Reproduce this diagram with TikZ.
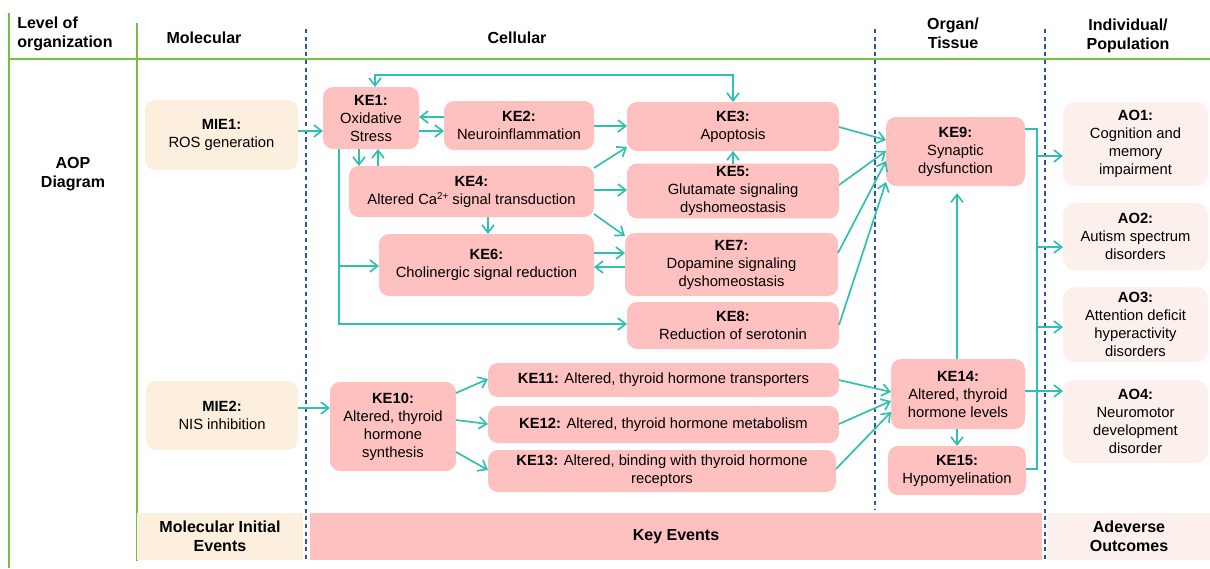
\documentclass[tikz,border=0pt]{standalone}
\usepackage{fontspec}
\setmainfont{Liberation Sans}
\usetikzlibrary{arrows.meta}

\definecolor{kePink}{RGB}{255,192,192}
\definecolor{miePeach}{RGB}{253,239,221}
\definecolor{aoCream}{RGB}{252,240,236}
\definecolor{arrowTeal}{RGB}{47,192,176}
\definecolor{gridGreen}{RGB}{118,192,64}
\definecolor{dashBlue}{RGB}{47,84,160}

\begin{document}
\begin{tikzpicture}
[x=0.025cm, y=-0.025cm,
  >={Straight Barb[length=5.5pt,width=8.5pt]},
  boxDecorate/.style={shape=rectangle,rounded corners=0.25cm,align=center,
    inner sep=2pt,outer sep=0pt,font=\fontsize{10.5}{12.8}\selectfont},
  keDecorate/.style={boxDecorate,fill=kePink},
  mieDecorate/.style={boxDecorate,fill=miePeach},
  aoDecorate/.style={boxDecorate,fill=aoCream,rounded corners=0.3cm},
  bandDecorate/.style={shape=rectangle,align=center,outer sep=0pt,
    font=\fontsize{11.4}{13.5}\selectfont\bfseries},
  headDecorate/.style={align=center,inner sep=0pt,
    font=\fontsize{11.4}{13.5}\selectfont\bfseries},
  gridDecorate/.style={gridGreen,line width=1.2pt},
  levelDecorate/.style={dashBlue,line width=1pt,dash pattern=on 3pt off 2.5pt},
  arrowDecorate/.style={->,arrowTeal,line width=1.2pt},
  busDecorate/.style={arrowTeal,line width=2pt}]
\useasboundingbox (0,0) rectangle (1210,568);
%% table lines
\draw[gridDecorate] (9,13) -- (9,568);
\draw[gridDecorate] (137,23) -- (137,561);
\draw[gridDecorate] (9,59) -- (1210,59);
\foreach \x/\ybot in {306/561, 875/509, 1045/561}
{
  \draw[levelDecorate] (\x,29) -- (\x,\ybot);
}
%% headers
\node[headDecorate,anchor=west,align=left] (level) at (17,34) {Level of\\organization};
\node[headDecorate] (molecular) at (204,38) {Molecular};
\node[headDecorate] (cellular) at (517,38) {Cellular};
\node[headDecorate] (organ) at (953,33) {Organ/\\Tissue};
\node[headDecorate] (individual) at (1128,36) {Individual/\\Population};
\node[headDecorate] (aop) at (73,174) {AOP\\Diagram};
%% boxes
\foreach \nodename/\x/\y/\w/\h/\txt in {
  MIE1/221.5/135/153/70/{ROS generation},
  MIE2/222/415.5/152/69/{NIS inhibition}}
{
  \node[mieDecorate,minimum width=\w*0.025cm,minimum height=\h*0.025cm]
    (\nodename) at (\x,\y) {\textbf{\nodename:}\\\txt};
}
\foreach \nodename/\x/\y/\w/\h/\txt in {
  KE1/371/118/96/62/{Oxidative\\Stress},
  KE2/519/125.5/150/49/{Neuroinflammation},
  KE3/733/126.5/212/49/{Apoptosis},
  KE4/471.5/191.5/245/51/{Altered Ca\raisebox{0.55ex}{\fontsize{7}{7}\selectfont 2+} signal transduction},
  KE5/733/191/212/52/{Glutamate signaling\\dyshomeostasis},
  KE6/486.5/265/215/62/{Cholinergic signal reduction},
  KE7/731.5/264.5/213/63/{Dopamine signaling\\dyshomeostasis},
  KE8/733/325.5/212/47/{Reduction of serotonin},
  KE9/955.5/151.5/139/69/{Synaptic\\dysfunction},
  KE10/393/426.5/126/89/{Altered, thyroid\\hormone\\synthesis},
  KE14/958/394/134/70/{Altered, thyroid\\hormone levels},
  KE15/957/470.5/138/49/{Hypomyelination}}
{
  \node[keDecorate,minimum width=\w*0.025cm,minimum height=\h*0.025cm]
    (\nodename) at (\x,\y) {\textbf{\nodename:}\\\txt};
}
\node[keDecorate,minimum width=351*0.025cm,minimum height=34*0.025cm]
  (KE11) at (663.5,380) {\textbf{KE11:} Altered, thyroid hormone transporters};
\node[keDecorate,minimum width=351*0.025cm,minimum height=37*0.025cm]
  (KE12) at (663.5,424.5) {\textbf{KE12:} Altered, thyroid hormone metabolism};
\node[keDecorate,minimum width=348*0.025cm,minimum height=42*0.025cm]
  (KE13) at (662,471) {\textbf{KE13:} Altered, binding with thyroid hormone\\receptors};
\foreach \nodename/\y/\h/\txt in {
  AO1/144/84/{Cognition and\\memory\\impairment},
  AO2/236.5/67/{Autism spectrum\\disorders},
  AO3/324.5/75/{Attention deficit\\hyperactivity\\disorders},
  AO4/421.5/83/{Neuromotor\\development\\disorder}}
{
  \node[aoDecorate,minimum width=145*0.025cm,minimum height=\h*0.025cm]
    (\nodename) at (1135.5,\y) {\textbf{\nodename:}\\\txt};
}
%% bottom bands
\node[bandDecorate,fill=miePeach,minimum width=166*0.025cm,minimum height=47*0.025cm]
  (mieBand) at (220,536.5) {Molecular Initial\\Events};
\node[bandDecorate,fill=kePink,minimum width=732*0.025cm,minimum height=47*0.025cm]
  (keBand) at (676,536.5) {Key Events};
\node[bandDecorate,fill=aoCream,minimum width=162*0.025cm,minimum height=47*0.025cm]
  (aoBand) at (1129,536.5) {Adeverse\\Outcomes};
%% arrows, left to right
\foreach \a/\ya/\b/\yb in {
  MIE1/131/KE1/131, KE1/131/KE2/131, KE2/126/KE3/126, KE4/168/KE3/147,
  KE4/190/KE5/190, KE4/214/KE7/236, KE6/253/KE7/253, KE3/127/KE9/140,
  KE5/185/KE9/151, KE7/253/KE9/161, KE8/325/KE9/182, MIE2/408/KE10/408,
  KE10/393/KE11/379, KE10/420/KE12/424, KE10/452/KE13/470,
  KE11/380/KE14/392, KE12/424/KE14/401, KE13/469/KE14/412, KE14/391/AO4/391}
{
  \draw[arrowDecorate] (\a.east |- 0,\ya) -- (\b.west |- 0,\yb);
}
%% arrows, right to left
\foreach \a/\y/\b in {KE2/117/KE1, KE7/267/KE6}
{
  \draw[arrowDecorate] (\a.west |- 0,\y) -- (\b.east |- 0,\y);
}
%% arrows, down and up
\foreach \a/\b/\x in {KE1/KE4/359, KE4/KE6/488, KE14/KE15/957}
{
  \draw[arrowDecorate] (\x,0 |- \a.south) -- (\x,0 |- \b.north);
}
\foreach \a/\b/\x in {KE4/KE1/378, KE5/KE3/733}
{
  \draw[arrowDecorate] (\x,0 |- \a.north) -- (\x,0 |- \b.south);
}
\draw[arrowDecorate,shorten >=0.18cm] (957,0 |- KE14.north) -- (957,0 |- KE9.south);
%% feedback and branches
\coordinate (loopTop) at (733,75);
\draw[arrowDecorate,<->] (375,0 |- KE1.north) |- (loopTop) -- (KE3.north);
\coordinate (branchSplit) at (339,266);
\coordinate (branchTurn) at (339,324);
\draw[arrowDecorate] (339,0 |- KE1.south) -- (branchTurn) -- (KE8.west |- branchTurn);
\draw[arrowDecorate] (branchSplit) -- (KE6.west |- branchSplit);
%% bus to outcomes
\coordinate (busTop) at (1037,129);
\coordinate (busBottom) at (1037,469);
\draw[busDecorate] (KE9.east |- busTop) -- (busTop) -- (busBottom) -- (KE15.east |- busBottom);
\foreach \ao/\y in {AO1/156, AO2/247, AO3/327}
{
  \draw[arrowDecorate] (busTop |- 0,\y) -- (\ao.west |- 0,\y);
}
\end{tikzpicture}
\end{document}
